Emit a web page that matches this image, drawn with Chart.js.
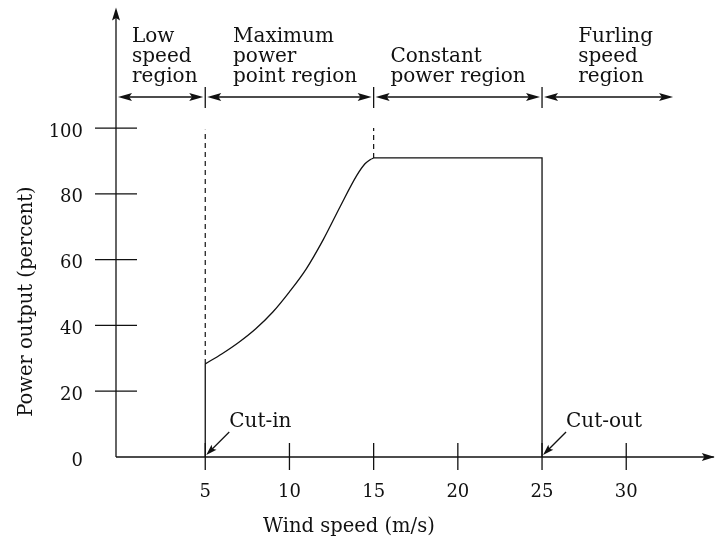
<!DOCTYPE html>
<html>
<head>
<meta charset="utf-8">
<script src="https://cdn.jsdelivr.net/npm/chart.js@4/dist/chart.umd.min.js"></script>
<style>
  html, body { margin: 0; padding: 0; background: #fff; }
  canvas { display: block; }
</style>
</head>
<body>
<canvas id="powerCurve" width="715" height="542"></canvas>
<script>
// --- data ---
const windSpeed = [5, 6, 7, 8, 9, 10, 11, 12, 13, 14, 14.5, 14.8, 15];
const powerPct  = [28.3, 31.4, 34.9, 39.0, 44.0, 50.2, 57.2, 66.0, 76.0, 85.6, 89.2, 90.4, 90.9];
const cutInSpeed = 5;
const ratedSpeed = 15;
const cutOutSpeed = 25;
const dashTop = [99.5, 100];          // top of the dashed guides at cut-in and rated speed
const xTicks = [5, 10, 15, 20, 25, 30];
const yTicks = [0, 20, 40, 60, 80, 100];
const regionEdges = [5, 15, 25];       // separators between operating regions
const regionEnd = 32.9;                // where the last region arrow stops
const regionLabels = [
    ['Low', 'speed', 'region'],
    ['Maximum', 'power', 'point region'],
    ['Constant', 'power region'],
    ['Furling', 'speed', 'region']
];
const regionLabelX = [0.65, 6.65, 16, 27.15];
const ratedPower = powerPct[powerPct.length - 1];

const FONT = '"DejaVu Serif", serif';
const INK = '#111';

/**
 * Filled arrowhead with tip at (x, y), pointing along angle
 */
function arrowHead(ctx, x, y, angle, len, half) {
    ctx.save();
    ctx.translate(x, y);
    ctx.rotate(angle);
    ctx.beginPath();
    ctx.moveTo(0, 0);
    ctx.lineTo(-len, -half);
    ctx.lineTo(-len * 0.8, 0);
    ctx.lineTo(-len, half);
    ctx.closePath();
    ctx.fill();
    ctx.restore();
}

function line(ctx, x1, y1, x2, y2) {
    ctx.beginPath();
    ctx.moveTo(x1, y1);
    ctx.lineTo(x2, y2);
    ctx.stroke();
}

/**
 * Axes, ticks, region arrows and annotations drawn through the chart scales
 */
const decorPlugin = {
    id: 'decor',
    afterDatasetsDraw(chart) {
        const ctx = chart.ctx;
        const xs = chart.scales.x;
        const ys = chart.scales.y;
        const px = v => xs.getPixelForValue(v);
        const py = v => ys.getPixelForValue(v);
        const x0 = px(xs.min);
        const y0 = py(0);

        ctx.save();
        ctx.strokeStyle = INK;
        ctx.fillStyle = INK;
        ctx.lineWidth = 1.3;

        // axes with arrows
        line(ctx, x0, y0, x0, py(ys.max) + 2);
        arrowHead(ctx, x0, py(ys.max) - 2, -Math.PI / 2, 13, 4);
        line(ctx, x0, y0, px(xs.max), y0);
        arrowHead(ctx, px(xs.max) + 1, y0, 0, 13, 4);

        // y ticks + labels
        ctx.font = '18px ' + FONT;
        ctx.textAlign = 'right';
        ctx.textBaseline = 'alphabetic';
        yTicks.forEach(v => {
            const y = py(v);
            if (v !== 0) line(ctx, x0 - 21, y, x0 + 21, y);
            ctx.fillText(String(v), 83, y + 8.5);
        });

        // x ticks + labels
        ctx.textAlign = 'center';
        xTicks.forEach(v => {
            const x = px(v);
            line(ctx, x, y0 - 14, x, y0 + 13);
            ctx.fillText(String(v), x, y0 + 40);
        });

        // axis titles
        ctx.font = '19.5px ' + FONT;
        ctx.fillText('Wind speed (m/s)', (px(xs.min) + px(xs.max)) / 2 - 66, y0 + 75);
        ctx.save();
        ctx.translate(32, (py(0) + py(100)) / 2 + 9);
        ctx.rotate(-Math.PI / 2);
        ctx.fillText('Power output (percent)', 0, 0);
        ctx.restore();

        // region arrows
        const ay = 97;
        const stops = [xs.min].concat(regionEdges, [regionEnd]);
        regionEdges.forEach(v => line(ctx, px(v), ay - 10, px(v), ay + 11));
        for (let i = 0; i < stops.length - 1; i++) {
            const a = px(stops[i]) + 2;
            const b = px(stops[i + 1]) - 2;
            line(ctx, a + 4, ay, b - 4, ay);
            arrowHead(ctx, a, ay, Math.PI, 14, 4);
            arrowHead(ctx, b, ay, 0, 14, 4);
        }

        // region labels (bottom-aligned above the arrows)
        ctx.font = '20px ' + FONT;
        ctx.textAlign = 'left';
        regionLabels.forEach((lines, i) => {
            const x = px(regionLabelX[i]);
            lines.forEach((t, k) => {
                const baseline = ay - 15 - (lines.length - 1 - k) * 20;
                ctx.fillText(t, x, baseline);
            });
        });

        // cut-in / cut-out callouts
        [[cutInSpeed, 'Cut-in'], [cutOutSpeed, 'Cut-out']].forEach(([v, label]) => {
            const tipX = px(v) + 1;
            const tipY = y0 - 2;
            const tailX = tipX + 23;
            const tailY = tipY - 23;
            line(ctx, tailX, tailY, tipX + 5, tipY - 5);
            arrowHead(ctx, tipX, tipY, Math.atan2(tipY - tailY, tipX - tailX), 11, 3.5);
            ctx.fillText(label, tailX, tailY - 5);
        });

        ctx.restore();
    }
};

const curvePoints = windSpeed.map((x, i) => ({ x: x, y: powerPct[i] }));

const lineStyle = {
    showLine: true,
    borderColor: INK,
    borderWidth: 1.3,
    pointRadius: 0,
    fill: false,
    clip: false
};

const chart = new Chart(document.getElementById('powerCurve'), {
    type: 'scatter',
    data: {
        datasets: [
            // cut-in jump
            Object.assign({}, lineStyle, {
                data: [{ x: cutInSpeed, y: 0 }, { x: cutInSpeed, y: powerPct[0] }],
                tension: 0
            }),
            // maximum power point tracking curve
            Object.assign({}, lineStyle, {
                data: curvePoints,
                cubicInterpolationMode: 'monotone'
            }),
            // constant power, then cut-out
            Object.assign({}, lineStyle, {
                data: [
                    { x: ratedSpeed, y: ratedPower },
                    { x: cutOutSpeed, y: ratedPower },
                    { x: cutOutSpeed, y: 0 }
                ],
                tension: 0
            }),
            // dashed guides
            Object.assign({}, lineStyle, {
                data: [{ x: cutInSpeed, y: powerPct[0] }, { x: cutInSpeed, y: dashTop[0] }],
                borderDash: [5, 4],
                borderWidth: 1.2
            }),
            Object.assign({}, lineStyle, {
                data: [{ x: ratedSpeed, y: ratedPower }, { x: ratedSpeed, y: dashTop[1] }],
                borderDash: [5, 4],
                borderWidth: 1.2
            })
        ]
    },
    options: {
        responsive: false,
        animation: false,
        layout: { padding: { left: 116, right: 1.2, top: 9.6, bottom: 85 } },
        plugins: {
            legend: { display: false },
            tooltip: { enabled: false }
        },
        scales: {
            x: { type: 'linear', min: -0.3, max: 35.2, display: false },
            y: { type: 'linear', min: 0, max: 136, display: false }
        }
    },
    plugins: [decorPlugin]
});
</script>
</body>
</html>
